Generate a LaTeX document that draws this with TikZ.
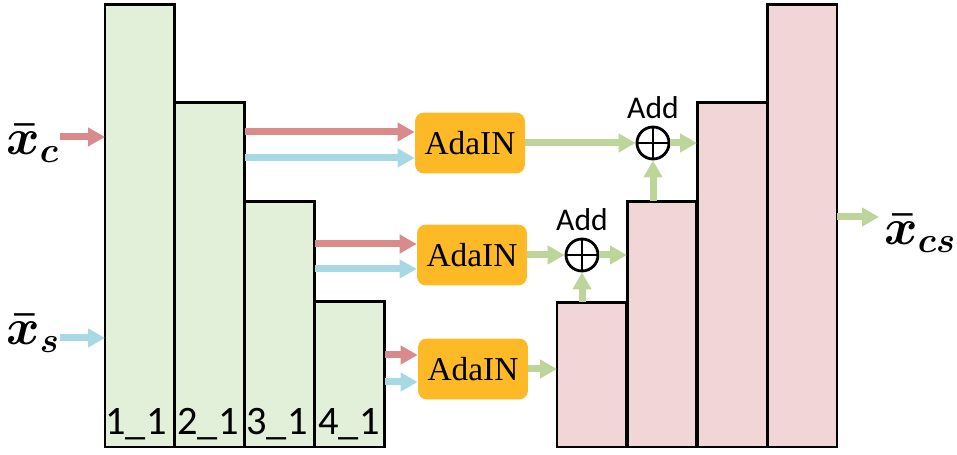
\RequirePackage{fix-cm}
\documentclass[tikz,border=0pt]{standalone}
\usepackage{fontspec}
\setmainfont{Liberation Serif}
\newfontfamily\carlito{Carlito}
\usetikzlibrary{arrows.meta,calc}
\definecolor{bar_green}{RGB}{226,240,217}
\definecolor{bar_red}{RGB}{242,213,215}
\definecolor{ada_orange}{RGB}{254,185,39}
\definecolor{arr_red}{RGB}{217,139,139}
\definecolor{arr_blue}{RGB}{168,216,228}
\definecolor{arr_green}{RGB}{189,213,155}
\tikzstyle{gb}=[rectangle,fill=bar_green,draw=black,line width=1.7pt,
  anchor=south west,outer sep=0pt,inner sep=0pt,minimum width=1.4cm]
\tikzstyle{rb}=[rectangle,fill=bar_red,draw=black,line width=1.7pt,
  anchor=south west,outer sep=0pt,inner sep=0pt,minimum width=1.4cm]
\tikzstyle{ab}=[rectangle,rounded corners=0.18cm,fill=ada_orange,
  minimum width=2.2cm,minimum height=1.22cm,font=\fontsize{19}{19}\selectfont]
\tikzstyle{pn}=[circle,draw=black,line width=1.6pt,minimum size=0.64cm,inner sep=0pt,
  path picture={\draw[line width=1.6pt] (path picture bounding box.north) -- (path picture bounding box.south)
    (path picture bounding box.west) -- (path picture bounding box.east);},
  label={[font=\carlito\fontsize{18}{18}\selectfont,inner sep=0pt,label distance=0.14cm]above:Add}]
\tikzstyle{tl}=[anchor=base,inner sep=0pt,font=\carlito\fontsize{23}{23}\selectfont]
\tikzstyle{xl}=[anchor=base west,inner sep=0pt,font=\fontsize{29}{29}\selectfont\boldmath]
\tikzstyle{ra}=[draw=arr_red,line width=0.14cm,-{Triangle[length=0.34cm,width=0.36cm]}]
\tikzstyle{ba}=[draw=arr_blue,line width=0.14cm,-{Triangle[length=0.34cm,width=0.36cm]}]
\tikzstyle{ga}=[draw=arr_green,line width=0.14cm,-{Triangle[length=0.34cm,width=0.36cm]}]

\begin{document}
\begin{tikzpicture}[x=0.02cm, y=-0.02cm]
        \useasboundingbox (0,0) rectangle (957,455);
        \node[style=gb, minimum height=8.86cm] (e1) at (105, 447) {};
		\node[style=gb, minimum height=6.9cm] (e2) at (175, 447) {};
		\node[style=gb, minimum height=4.92cm] (e3) at (245, 447) {};
		\node[style=gb, minimum height=2.92cm] (e4) at (315, 447) {};
		\node[style=rb, minimum height=2.9cm] (d1) at (557, 447) {};
		\node[style=rb, minimum height=4.92cm] (d2) at (627, 447) {};
		\node[style=rb, minimum height=6.9cm] (d3) at (697, 447) {};
		\node[style=rb, minimum height=8.86cm] (d4) at (767, 447) {};
		\node[style=tl] (l1) at (136, 435) {1\_1};
		\node[style=tl] (l2) at (208, 435) {2\_1};
		\node[style=tl] (l3) at (277, 435) {3\_1};
		\node[style=tl] (l4) at (349, 435) {4\_1};
		\node[style=ab] (a1) at (470, 143) {AdaIN};
		\node[style=ab] (a2) at (472, 255) {AdaIN};
		\node[style=ab] (a3) at (473, 369) {AdaIN};
		\node[style=pn] (p1) at (653, 143) {};
		\node[style=pn] (p2) at (582, 255) {};
		\node[style=xl] (xc) at (6, 155) {$\bar{x}_c$};
		\node[style=xl] (xs) at (6, 345) {$\bar{x}_s$};
		\node[style=xl] (xcs) at (884, 245) {$\bar{x}_{cs}$};
		\coordinate (c0) at (60, 137);
		\coordinate (s0) at (60, 338);
		\coordinate (c1) at (245, 132);
		\coordinate (s1) at (245, 158);
		\coordinate (c2) at (315, 244);
		\coordinate (s2) at (315, 269);
		\coordinate (c3) at (385, 355);
		\coordinate (s3) at (385, 382);
		\coordinate (o) at (879, 217);
		\draw[style=ra] (c0) to (c0 -| e1.west);
		\draw[style=ba] (s0) to (s0 -| e1.west);
		\draw[style=ra] (c1) to (c1 -| a1.west);
		\draw[style=ba] (s1) to (s1 -| a1.west);
		\draw[style=ra] (c2) to (c2 -| a2.west);
		\draw[style=ba] (s2) to (s2 -| a2.west);
		\draw[style=ra] (c3) to (c3 -| a3.west);
		\draw[style=ba] (s3) to (s3 -| a3.west);
		\draw[style=ga] (a1) to (p1);
		\draw[style=ga] (p1) to (p1 -| d3.west);
		\draw[style=ga] (p1 |- d2.north) to (p1);
		\draw[style=ga] (a2) to (p2);
		\draw[style=ga] (p2) to (p2 -| d2.west);
		\draw[style=ga] (p2 |- d1.north) to (p2);
		\draw[style=ga] (a3) to (a3 -| d1.west);
		\draw[style=ga] (o -| d4.east) to (o);
    \end{tikzpicture}
\end{document}
